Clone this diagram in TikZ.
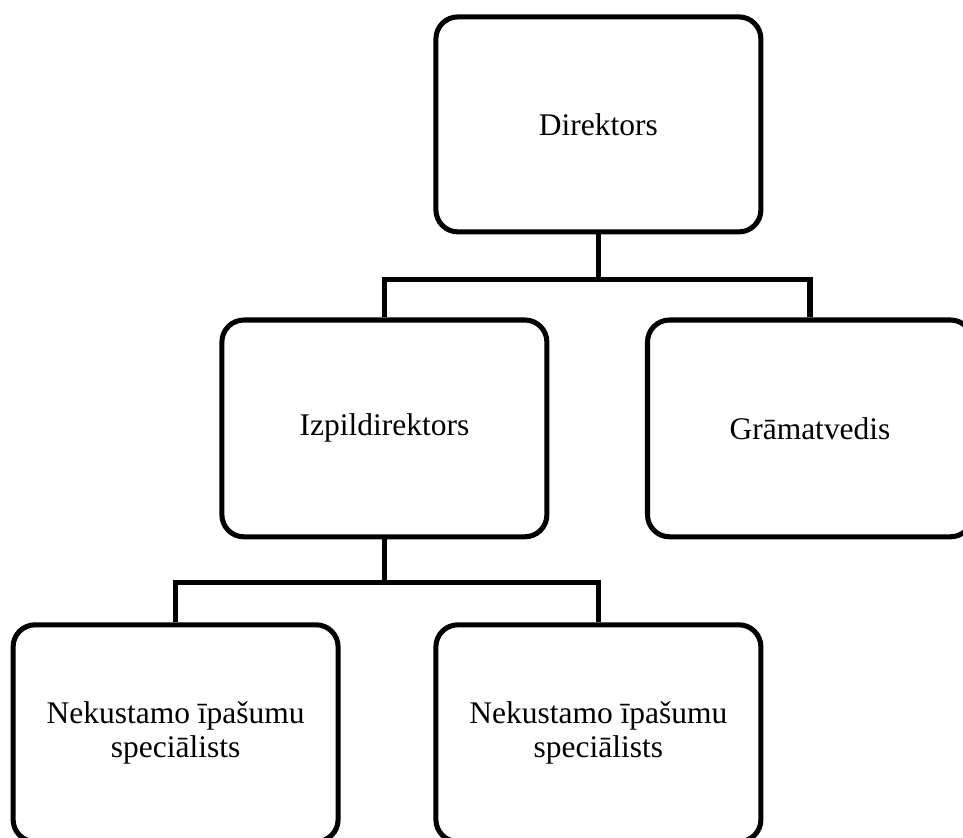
\documentclass[tikz,border=0pt]{standalone}
\usepackage{fontspec}
\setmainfont{Liberation Serif}
\usepackage{tikz}
\usetikzlibrary{positioning,calc}

\begin{document}
\begin{tikzpicture}[
  post/.style={draw=black, line width=3.6pt, rounded corners=0.55cm, fill=white,
    minimum width=8.125cm, minimum height=5.42cm, inner sep=0pt, align=center,
    font=\fontsize{22.4pt}{24.3pt}\selectfont},
  link/.style={draw=black, line width=3.6pt}
]
\useasboundingbox (0,0) rectangle (24.075,-20.925);

\node[post, minimum height=5.375cm] (dir) at (14.96, -3.11) {Direktors};
\node[post] (izp) at (9.61, -10.71) {Izpildirektors};
\node[post] (gram) at (20.25, -10.71) {Grāmatvedis};
\node[post] (spec1) at (4.39, -18.33) {Nekustamo īpašumu\\speciālists};
\node[post] (spec2) at (14.96, -18.33) {Nekustamo īpašumu\\speciālists};
\draw[link] (dir.south) -- ++(0,-1.125) -| (izp.north);
\draw[link] (dir.south) -- ++(0,-1.125) -| (gram.north);
\draw[link] (izp.south) -- ++(0,-1.075) -| (spec1.north);
\draw[link] (izp.south) -- ++(0,-1.075) -| (spec2.north);

\end{tikzpicture}
\end{document}
